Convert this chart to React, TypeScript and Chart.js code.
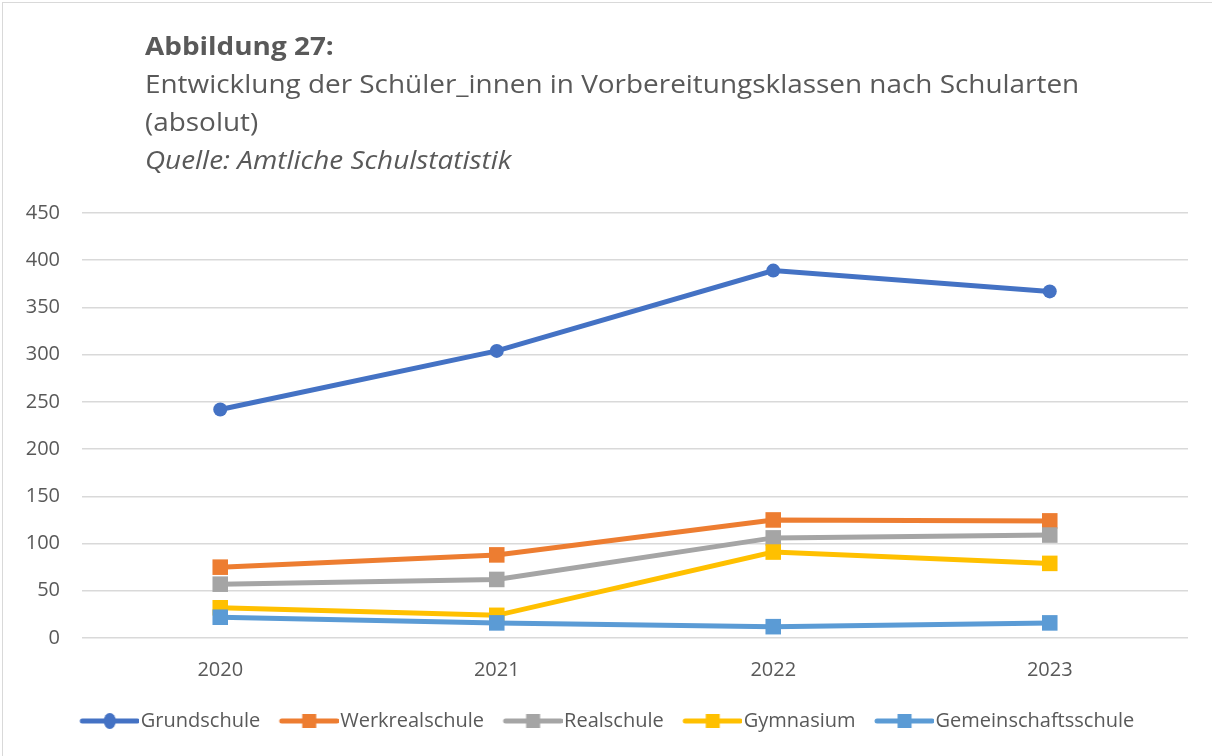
import React, { useEffect, useRef } from "react";
import { Chart, registerables } from "chart.js";

Chart.register(...registerables);

const categories = ["2020", "2021", "2022", "2023"];
const seriesNames = ["Grundschule", "Werkrealschule", "Realschule", "Gymnasium", "Gemeinschaftsschule"];
const grundschule = [242, 304, 389, 367];
const werkrealschule = [75, 88, 125, 124];
const realschule = [57, 62, 106, 109];
const gymnasium = [32, 24, 91, 79];
const gemeinschaftsschule = [22, 16, 12, 16];
const seriesColors = ["#4472C4", "#ED7D31", "#A5A5A5", "#FFC000", "#5B9BD5"];
const seriesMarkers = ["circle", "rect", "rect", "rect", "rect"];
const yTicks = { min: 0, max: 450, step: 50 };

const FONT = "'Open Sans', 'Noto Sans', sans-serif";

// icon canvas 70 wide, centered on a 53px legend box; visible line from 11.5 to 69.5
function makeLegendIcon(color: string, marker: string): HTMLCanvasElement {
  const c = document.createElement("canvas");
  c.width = 70;
  c.height = 18;
  const ctx = c.getContext("2d")!;
  ctx.strokeStyle = color;
  ctx.lineWidth = 5;
  ctx.lineCap = "round";
  ctx.beginPath();
  ctx.moveTo(13, 9);
  ctx.lineTo(68, 9);
  ctx.stroke();
  ctx.fillStyle = color;
  const cx = 40.5;
  if (marker === "circle") {
    ctx.beginPath();
    ctx.ellipse(cx, 9, 6, 8, 0, 0, Math.PI * 2);
    ctx.fill();
  } else {
    ctx.fillRect(cx - 7, 2, 14, 14);
  }
  return c;
}

export default function App() {
  const ref = useRef<HTMLCanvasElement | null>(null);
  useEffect(() => {
    if (!ref.current) return;
    const values = [grundschule, werkrealschule, realschule, gymnasium, gemeinschaftsschule];
    const icons = seriesNames.map((_, i) => makeLegendIcon(seriesColors[i], seriesMarkers[i]));
    const chart = new Chart(ref.current, {
      type: "line",
      data: {
        labels: categories,
        datasets: seriesNames.map((name, i) => ({
          label: name,
          data: values[i],
          borderColor: seriesColors[i],
          backgroundColor: seriesColors[i],
          borderWidth: 5,
          pointStyle: seriesMarkers[i] as any,
          pointRadius: seriesMarkers[i] === "circle" ? 7 : 11,
          pointBorderWidth: 0,
          tension: 0,
          order: 10 - i,
        })),
      },
      options: {
        animation: false,
        responsive: false,
        layout: { padding: { left: 24, right: 24, top: 213, bottom: 15 } },
        plugins: {
          tooltip: { enabled: false },
          legend: {
            position: "bottom",
            labels: {
              usePointStyle: true,
              pointStyleWidth: 53,
              padding: 17,
              color: "#595959",
              font: { family: FONT, size: 20 },
              sort: (a: any, b: any) => a.datasetIndex - b.datasetIndex,
              generateLabels: (ch: any) =>
                Chart.defaults.plugins.legend.labels.generateLabels(ch).map((l: any) => ({
                  ...l,
                  pointStyle: icons[l.datasetIndex],
                })),
            },
          },
        },
        scales: {
          x: {
            offset: true,
            grid: { display: false, drawTicks: false },
            border: { display: false },
            ticks: { color: "#595959", font: { family: FONT, size: 20 }, padding: 20 },
            afterFit: (s: any) => {
              s.height = 56;
            },
          },
          y: {
            min: yTicks.min,
            max: yTicks.max,
            grid: { color: "#d9d9d9", lineWidth: 1.5, drawTicks: false },
            border: { display: false },
            ticks: { stepSize: yTicks.step, color: "#595959", font: { family: FONT, size: 20 }, padding: 22 },
            afterFit: (s: any) => {
              s.width = 58;
            },
          },
        },
      },
    });
    return () => chart.destroy();
  }, []);

  const titleStyle: React.CSSProperties = {
    position: "absolute",
    left: 145,
    top: 26,
    fontFamily: FONT,
    fontSize: 25,
    lineHeight: "38px",
    color: "#595959",
    whiteSpace: "nowrap",
    transform: "scaleX(1.116)",
    transformOrigin: "0 0",
  };

  return (
    <div style={{ position: "absolute", left: 0, top: 0, width: 1212, height: 756, background: "#fff", overflow: "hidden" }}>
      <div style={{ position: "absolute", left: 2, top: 2, width: 1220, height: 760, border: "1px solid #d9d9d9" }} />
      <canvas ref={ref} width={1212} height={756} style={{ position: "absolute", left: 0, top: 0 }} />
      <div style={titleStyle}>
        <div style={{ fontWeight: "bold" }}>Abbildung 27:</div>
        <div>Entwicklung der Schüler_innen in Vorbereitungsklassen nach Schularten</div>
        <div>(absolut)</div>
        <div style={{ fontStyle: "italic" }}>Quelle: Amtliche Schulstatistik</div>
      </div>
    </div>
  );
}
